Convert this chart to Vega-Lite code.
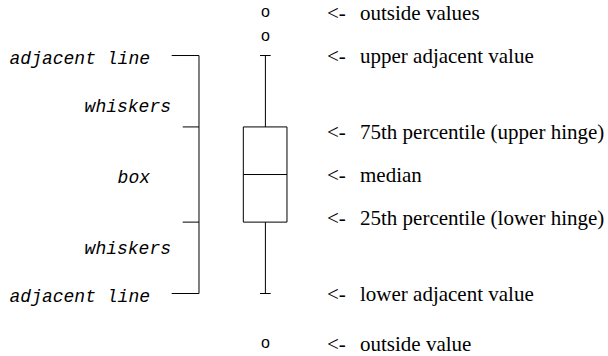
{
  "$schema": "https://vega.github.io/schema/vega-lite/v6.json",
  "width": 608,
  "height": 356,
  "autosize": {"type": "fit", "contains": "padding"},
  "padding": 0,
  "background": "white",
  "config": {"view": {"stroke": null}},
  "datasets": {
    "box": [{"x1": 40.02, "x2": 47.2, "q1": 40, "median": 50, "q3": 60}],
    "segments": [
      {"part": "upper whisker", "x": 43.65, "x2": 43.65, "y": 60, "y2": 75},
      {"part": "lower whisker", "x": 43.65, "x2": 43.65, "y": 25, "y2": 40},
      {"part": "upper cap", "x": 42.76, "x2": 44.52, "y": 75, "y2": 75},
      {"part": "lower cap", "x": 42.76, "x2": 44.52, "y": 25, "y2": 25},
      {"part": "median", "x": 40.02, "x2": 47.2, "y": 50, "y2": 50},
      {"part": "bracket", "x": 32.73, "x2": 32.73, "y": 25, "y2": 75},
      {"part": "bracket top", "x": 28.24, "x2": 32.73, "y": 75, "y2": 75},
      {"part": "bracket q3", "x": 30.05, "x2": 32.73, "y": 60, "y2": 60},
      {"part": "bracket q1", "x": 30.05, "x2": 32.73, "y": 40, "y2": 40},
      {"part": "bracket bottom", "x": 28.24, "x2": 32.73, "y": 25, "y2": 25}
    ],
    "outside": [
      {"x": 43.65, "y": 83.9},
      {"x": 43.65, "y": 78.9},
      {"x": 43.65, "y": 14.31}
    ],
    "leftLabels": [
      {"label": "adjacent line", "x": 24.67, "y": 75},
      {"label": "whiskers", "x": 28.13, "y": 65},
      {"label": "box", "x": 24.67, "y": 50},
      {"label": "whiskers", "x": 28.13, "y": 35},
      {"label": "adjacent line", "x": 24.67, "y": 25}
    ],
    "rightLabels": [
      {"label": "outside values", "y": 83.9},
      {"label": "upper adjacent value", "y": 75},
      {"label": "75th percentile (upper hinge)", "y": 58.96},
      {"label": "median", "y": 50},
      {"label": "25th percentile (lower hinge)", "y": 40.83},
      {"label": "lower adjacent value", "y": 25},
      {"label": "outside value", "y": 14.31}
    ]
  },
  "layer": [
    {
      "data": {"name": "box"},
      "mark": {"type": "rect", "fill": "white", "stroke": "black", "strokeWidth": 1},
      "encoding": {
        "x": {"field": "x1", "type": "quantitative", "scale": {"domain": [0, 100], "nice": false, "zero": false}, "axis": null},
        "x2": {"field": "x2"},
        "y": {"field": "q1", "type": "quantitative", "scale": {"domain": [12.5, 86.667], "nice": false, "zero": false}, "axis": null},
        "y2": {"field": "q3"}
      }
    },
    {
      "data": {"name": "segments"},
      "mark": {"type": "rule", "color": "black", "strokeWidth": 1},
      "encoding": {
        "x": {"field": "x", "type": "quantitative"},
        "x2": {"field": "x2"},
        "y": {"field": "y", "type": "quantitative"},
        "y2": {"field": "y2"}
      }
    },
    {
      "data": {"name": "outside"},
      "mark": {"type": "text", "text": "o", "font": "Liberation Sans", "fontSize": 16, "baseline": "middle", "align": "center", "color": "black", "dy": -1},
      "encoding": {
        "x": {"field": "x", "type": "quantitative"},
        "y": {"field": "y", "type": "quantitative"}
      }
    },
    {
      "data": {"name": "leftLabels"},
      "mark": {"type": "text", "font": "Liberation Mono", "fontStyle": "italic", "fontSize": 18, "baseline": "middle", "align": "right", "color": "black", "dy": 3.5},
      "encoding": {
        "x": {"field": "x", "type": "quantitative"},
        "y": {"field": "y", "type": "quantitative"},
        "text": {"field": "label"}
      }
    },
    {
      "data": {"name": "rightLabels"},
      "mark": {"type": "text", "text": "<-", "font": "Liberation Serif", "fontSize": 21, "baseline": "middle", "align": "left", "color": "black", "dy": 1},
      "encoding": {
        "x": {"datum": 53.78, "type": "quantitative"},
        "y": {"field": "y", "type": "quantitative"}
      }
    },
    {
      "data": {"name": "rightLabels"},
      "mark": {"type": "text", "font": "Liberation Serif", "fontSize": 21, "baseline": "middle", "align": "left", "color": "black", "dy": 1},
      "encoding": {
        "x": {"datum": 59.21, "type": "quantitative"},
        "y": {"field": "y", "type": "quantitative"},
        "text": {"field": "label"}
      }
    }
  ]
}
